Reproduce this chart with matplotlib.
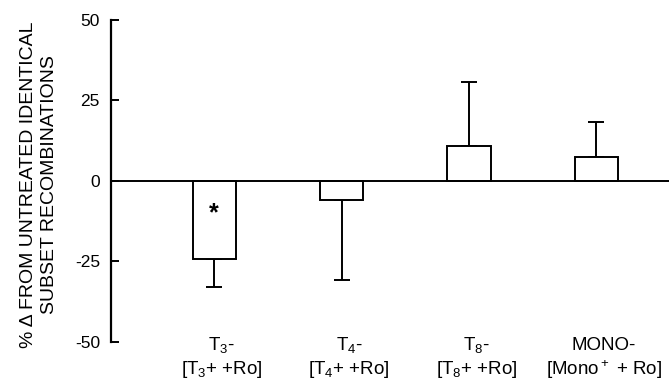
import matplotlib
matplotlib.use("Agg")
import matplotlib.pyplot as plt
import matplotlib.transforms as mtransforms

plt.rcParams['font.family'] = ['Liberation Sans', 'DejaVu Sans']
plt.rcParams['mathtext.fontset'] = 'custom'
plt.rcParams['mathtext.rm'] = 'Liberation Sans'
plt.rcParams['mathtext.it'] = 'Liberation Sans'

# Data
line1 = ["T$_3$-", "T$_4$-", "T$_8$-", "MONO-"]
line2 = ["[T$_3$+ +Ro]", "[T$_4$+ +Ro]", "[T$_8$+ +Ro]", "[Mono$^+$ + Ro]"]
values = [-24.2, -5.9, 10.9, 7.5]
errors = [8.8, 24.8, 19.8, 10.8]
significant = [True, False, False, False]
yticks = [-50, -25, 0, 25, 50]

fig = plt.figure(figsize=(6.69, 3.85), dpi=100)
ax = fig.add_axes([0.166, 0.112, 0.834, 0.836])

x = list(range(len(values)))
ax.bar(x, values, width=0.34, color='white', edgecolor='black', linewidth=1.4, zorder=2)
for xi, v, e in zip(x, values, errors):
    if v >= 0:
        ax.errorbar(xi, v, yerr=[[0], [e]], fmt='none', ecolor='black',
                    elinewidth=1.4, capsize=6, capthick=1.4, zorder=1)
    else:
        ax.errorbar(xi, v, yerr=[[e], [0]], fmt='none', ecolor='black',
                    elinewidth=1.4, capsize=6, capthick=1.4, zorder=1)
for xi, v, s in zip(x, values, significant):
    if s:
        ax.text(xi, v * 0.42, "*", ha='center', va='center', fontsize=18, fontweight='bold')

ax.axhline(0, color='black', linewidth=1.4, zorder=3)
ax.set_xlim(-0.81, 3.57)
ax.set_ylim(-50, 50)
ax.set_yticks(yticks)
ax.set_yticklabels([str(t) for t in yticks], fontsize=12.5)
ax.tick_params(axis='y', direction='in', length=6, width=1.4, pad=8)
ax.set_xticks([])
for s in ['top', 'right', 'bottom']:
    ax.spines[s].set_visible(False)
ax.spines['left'].set_linewidth(1.6)

trans = mtransforms.blended_transform_factory(ax.transData, ax.transAxes)
for xi, a, b in zip(x, line1, line2):
    ax.text(xi + 0.06, -0.01, a, transform=trans, ha='center', va='center', fontsize=13.5, clip_on=False)
    ax.text(xi + 0.06, -0.087, b, transform=trans, ha='center', va='center', fontsize=13.5, clip_on=False)

fig.text(0.058, 0.52, "% Δ FROM UNTREATED IDENTICAL\nSUBSET RECOMBINATIONS",
         rotation=90, ha='center', va='center', fontsize=14, linespacing=1.3)

fig.savefig("out.png", dpi=100)
